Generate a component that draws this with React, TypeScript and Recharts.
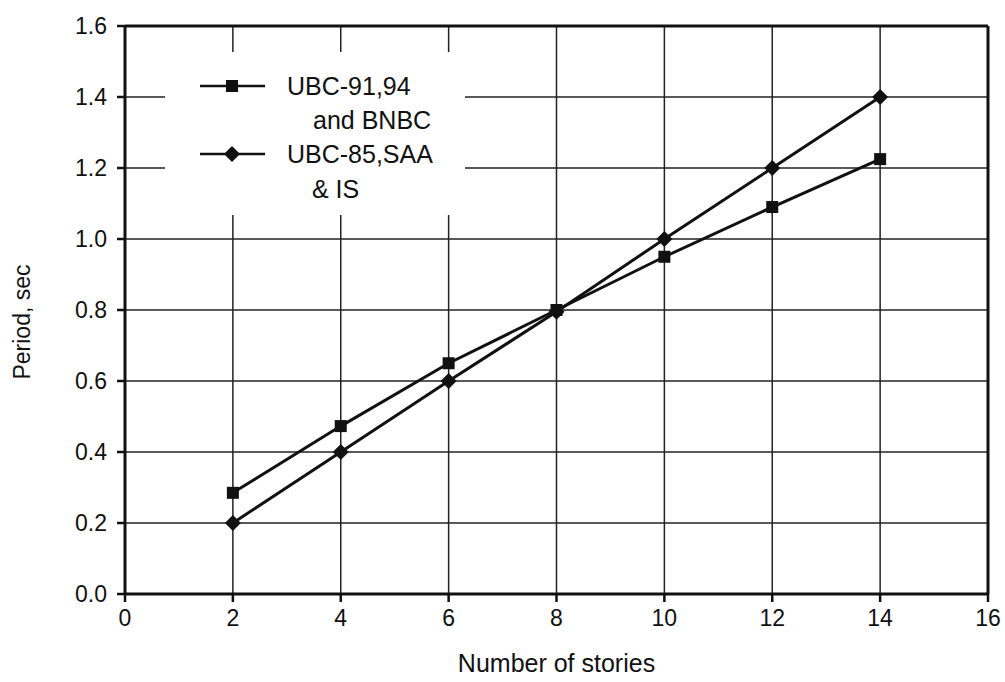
import { CartesianGrid, Legend, Line, LineChart, ReferenceLine, XAxis, YAxis } from 'recharts';

const STORIES = [2, 4, 6, 8, 10, 12, 14];
const UBC_91_94_BNBC = [0.285, 0.473, 0.65, 0.8, 0.95, 1.09, 1.225];
const UBC_85_SAA_IS = [0.2, 0.4, 0.6, 0.795, 1.0, 1.2, 1.4];
const X_TICKS = [0, 2, 4, 6, 8, 10, 12, 14, 16];
const Y_TICKS = [0, 0.2, 0.4, 0.6, 0.8, 1.0, 1.2, 1.4, 1.6];

const rows = STORIES.map((n, i) => ({ n, a: UBC_91_94_BNBC[i], b: UBC_85_SAA_IS[i] }));

const INK = '#111';
const FONT = '"Liberation Sans", Arial, sans-serif';

function SquareDot({ cx, cy }: { cx?: number; cy?: number }) {
  if (cx == null || cy == null) return null;
  return <rect x={cx - 6} y={cy - 6} width={12} height={12} fill={INK} />;
}

function DiamondDot({ cx, cy }: { cx?: number; cy?: number }) {
  if (cx == null || cy == null) return null;
  return <path d={`M${cx},${cy - 8}L${cx + 8},${cy}L${cx},${cy + 8}L${cx - 8},${cy}Z`} fill={INK} />;
}

function YLabel({ viewBox }: { viewBox?: { x: number; y: number; width: number; height: number } }) {
  if (!viewBox) return null;
  const x = viewBox.x + 30;
  const y = viewBox.y + viewBox.height / 2 + 12;
  return (
    <text x={x} y={y} transform={`rotate(-90 ${x} ${y})`} textAnchor="middle" fill={INK} fontSize={23} fontFamily={FONT}>
      Period, sec
    </text>
  );
}

function KeyBox() {
  return (
    <svg width={300} height={163} style={{ display: 'block' }}>
      <g fontFamily={FONT} fontSize={25} fill={INK}>
        <line x1={35} y1={34} x2={100} y2={34} stroke={INK} strokeWidth={2.5} />
        <rect x={61} y={28} width={12} height={12} fill={INK} />
        <text x={122} y={43}>UBC-91,94</text>
        <text x={148} y={77}>and BNBC</text>
        <line x1={35} y1={102} x2={100} y2={102} stroke={INK} strokeWidth={2.5} />
        <path d="M67,94L75,102L67,110L59,102Z" fill={INK} />
        <text x={122} y={111}>UBC-85,SAA</text>
        <text x={147} y={146}>&amp; IS</text>
      </g>
    </svg>
  );
}

export default function App() {
  return (
    <div style={{ position: 'absolute', left: 0, top: 0, background: '#fff' }}>
      <LineChart width={1005} height={682} data={rows} margin={{ top: 26, right: 17, bottom: 0, left: 0 }}>
        <CartesianGrid stroke="#222" strokeWidth={1.5} />
        <XAxis
          dataKey="n"
          type="number"
          domain={[0, 16]}
          ticks={X_TICKS}
          height={88}
          tickSize={8}
          tickMargin={8}
          axisLine={{ stroke: INK, strokeWidth: 3 }}
          tickLine={{ stroke: INK, strokeWidth: 2.5 }}
          tick={{ fill: INK, fontSize: 23, fontFamily: FONT }}
          label={{ value: 'Number of stories', position: 'insideBottom', offset: 10, fill: INK, fontSize: 25, fontFamily: FONT }}
        />
        <YAxis
          type="number"
          domain={[0, 1.6]}
          ticks={Y_TICKS}
          width={125}
          tickSize={8}
          tickMargin={10}
          tickFormatter={(v: number) => v.toFixed(1)}
          axisLine={{ stroke: INK, strokeWidth: 3 }}
          tickLine={{ stroke: INK, strokeWidth: 2.5 }}
          tick={{ fill: INK, fontSize: 23, fontFamily: FONT }}
          label={<YLabel />}
        />
        <ReferenceLine y={1.6} stroke={INK} strokeWidth={3} />
        <ReferenceLine x={16} stroke={INK} strokeWidth={3} />
        <Legend
          layout="vertical"
          align="center"
          verticalAlign="middle"
          content={() => <KeyBox />}
          wrapperStyle={{ left: 165, top: 52, width: 300, height: 163, background: '#fff' }}
        />
        <Line
          dataKey="a"
          name="UBC-91,94 and BNBC"
          stroke={INK}
          strokeWidth={3}
          dot={<SquareDot />}
          isAnimationActive={false}
        />
        <Line
          dataKey="b"
          name="UBC-85,SAA & IS"
          stroke={INK}
          strokeWidth={3}
          dot={<DiamondDot />}
          isAnimationActive={false}
        />
      </LineChart>
    </div>
  );
}
